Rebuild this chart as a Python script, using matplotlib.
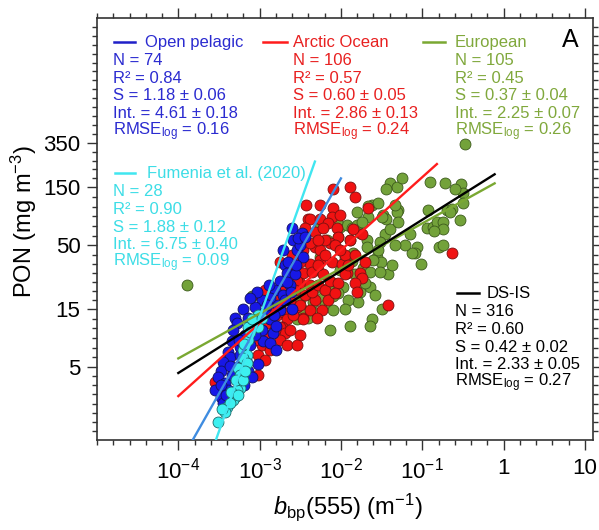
import matplotlib
matplotlib.use("Agg")
import matplotlib.pyplot as plt
from matplotlib.lines import Line2D
import numpy as np

plt.rcParams['font.family'] = ['Liberation Sans', 'DejaVu Sans']
plt.rcParams['mathtext.fontset'] = 'custom'
plt.rcParams['mathtext.rm'] = 'Liberation Sans'
plt.rcParams['mathtext.it'] = 'Liberation Sans:italic'
plt.rcParams['mathtext.bf'] = 'Liberation Sans:bold'

# data, log10 units
open_logb = [-2.60, -2.59, -2.48, -2.54, -2.47, -2.69, -2.66, -2.75, -2.63, -2.56,
             -2.81, -2.71, -2.87, -2.77, -2.97, -3.06, -3.21, -3.30, -3.28, -3.14,
             -2.93, -2.87, -2.97, -2.83, -2.96, -2.87, -3.06, -3.12, -3.34, -3.39,
             -3.36, -3.45, -3.24, -3.48, -3.51, -3.28, -3.14, -3.09, -3.42, -3.39,
             -3.48, -3.45, -3.34, -3.24, -3.18, -3.09, -2.75, -2.65, -2.50, -2.55,
             -2.69, -3.02, -3.41, -3.19, -2.99, -2.80, -2.91, -2.61, -2.53, -2.44,
             -2.71, -3.33, -3.37, -3.17, -3.55, -2.88, -3.03, -3.12, -2.82, -2.66,
             -3.25, -3.47, -2.80, -2.60]
open_logpon = [1.84, 1.74, 1.80, 1.66, 1.60, 1.54, 1.47, 1.41, 1.37, 1.46,
               1.33, 1.29, 1.27, 1.21, 1.25, 1.19, 1.18, 1.10, 1.06, 1.10,
               1.15, 1.09, 1.00, 0.98, 0.91, 0.90, 0.96, 0.88, 0.91, 0.82,
               0.78, 0.74, 0.86, 0.67, 0.62, 0.70, 0.67, 0.62, 0.57, 0.51,
               0.45, 0.40, 0.63, 0.80, 0.96, 1.04, 1.17, 1.56, 1.70, 1.54,
               1.25, 0.72, 0.47, 0.55, 1.09, 1.04, 1.21, 1.32, 1.76, 1.77,
               1.66, 1.00, 0.71, 0.76, 0.51, 1.37, 1.32, 1.27, 1.13, 1.40,
               0.92, 0.55, 0.84, 1.18]

fum_logb = [-3.02, -3.02, -3.14, -3.14, -3.20, -3.15, -3.21, -3.15, -3.26, -3.24,
            -3.24, -3.28, -3.30, -3.33, -3.40, -3.42, -3.51, -3.09, -2.97, -3.19,
            -3.29, -3.21, -3.35, -3.37, -3.46, -3.12, -3.18, -3.26]
fum_logpon = [1.13, 1.03, 1.03, 0.92, 0.84, 0.80, 0.77, 0.73, 0.69, 0.63,
              0.53, 0.51, 0.45, 0.43, 0.37, 0.33, 0.25, 1.09, 1.10, 0.89,
              0.59, 0.59, 0.49, 0.40, 0.35, 0.99, 0.67, 0.47]

arctic_logb = [-3.55, -3.42, -3.02, -2.99, -2.79, -2.71, -2.66, -2.54, -2.47, -2.72,
               -2.91, -2.83, -2.40, -1.89, -1.83, -2.10, -2.10, -2.11, -2.38, -2.26,
               -2.16, -2.05, -2.04, -2.13, -2.07, -2.32, -2.26, -1.74, -1.67, -2.47,
               -2.38, -2.26, -2.11, -1.99, -1.93, -1.77, -1.74, -1.83, -2.47, -2.36,
               -2.50, -0.64, -1.80, -1.42, -1.95, -2.47, -2.75, -2.69, -2.38, -2.54,
               -2.22, -2.63, -2.56, -2.44, -2.32, -2.50, -2.63, -2.77, -2.87, -2.93,
               -2.69, -2.36, -2.28, -2.20, -2.13, -2.04, -2.16, -2.23, -2.38, -2.59,
               -2.81, -2.90, -2.97, -3.06, -2.93, -2.75, -2.63, -2.50, -1.95, -2.01,
               -2.20, -2.32, -2.44, -2.50, -2.28, -1.89, -1.83, -1.91, -2.60, -2.38,
               -2.20, -2.28, -2.01, -1.85, -2.07, -2.29, -2.66, -2.87, -2.54, -3.02,
               -3.40, -2.75, -2.43, -2.22, -1.71, -2.26]
arctic_logpon = [0.58, 0.51, 0.80, 1.29, 1.13, 1.15, 1.09, 1.19, 1.10, 1.03,
                 1.06, 1.28, 1.92, 2.18, 2.10, 2.16, 2.01, 1.93, 1.92, 1.92,
                 1.88, 1.84, 1.77, 1.72, 1.70, 1.69, 1.66, 1.79, 2.01, 1.66,
                 1.55, 1.58, 1.56, 1.55, 1.47, 1.47, 1.43, 1.39, 1.47, 1.48,
                 1.39, 1.64, 1.32, 1.21, 1.46, 1.09, 1.03, 0.98, 1.37, 1.41,
                 1.46, 1.51, 1.33, 1.29, 1.25, 1.21, 1.25, 1.25, 1.18, 1.33,
                 1.36, 1.32, 1.37, 1.33, 1.41, 1.39, 1.25, 1.17, 1.17, 1.13,
                 1.00, 0.96, 0.88, 0.92, 0.76, 0.92, 1.00, 0.96, 1.62, 1.66,
                 1.74, 1.81, 1.84, 1.56, 1.54, 1.74, 1.62, 1.54, 1.62, 1.72,
                 1.62, 1.74, 1.95, 1.83, 1.31, 1.10, 0.88, 0.84, 0.88, 0.63,
                 0.49, 1.56, 2.03, 1.84, 1.56, 2.03]

euro_logb = [-3.89, -0.48, -1.40, -1.31, -1.25, -1.45, -0.91, -0.72, -0.52, -0.50,
             -1.62, -1.48, -1.44, -1.30, -1.67, -2.01, -1.93, -1.87, -1.80, -1.68,
             -1.68, -1.46, -1.52, -0.70, -0.63, -0.50, -0.94, -0.87, -0.82, -0.75,
             -0.75, -0.85, -1.07, -1.09, -1.01, -0.79, -1.56, -1.51, -1.61, -1.91,
             -1.87, -1.73, -1.42, -1.64, -2.10, -1.98, -2.04, -2.10, -2.32, -1.52,
             -2.16, -2.23, -2.34, -2.20, -1.77, -1.79, -1.64, -1.91, -1.95, -2.10,
             -1.50, -1.62, -1.64, -1.89, -2.13, -2.34, -2.40, -3.09, -2.54, -2.26,
             -2.05, -1.55, -1.67, -1.31, -2.04, -1.89, -1.77, -1.50, -0.66, -1.12,
             -0.75, -1.55, -1.85, -1.95, -2.17, -1.40, -1.34, -1.83, -1.71, -1.58,
             -1.37, -1.21, -1.15, -1.80, -1.74, -2.50, -2.28, -2.01, -1.30, -0.60,
             -0.54, -0.93, -1.34, -2.47, -2.26]
euro_logpon = [1.37, 2.53, 2.21, 2.18, 2.25, 2.16, 2.22, 2.21, 2.20, 2.13,
               2.03, 1.95, 1.92, 1.99, 1.93, 1.85, 1.87, 1.84, 1.87, 1.74,
               1.69, 1.79, 1.73, 1.99, 2.00, 2.05, 1.84, 1.85, 1.89, 1.89,
               1.83, 1.82, 1.69, 1.64, 1.55, 1.69, 1.60, 1.56, 1.58, 1.60,
               1.57, 1.51, 1.46, 1.48, 1.39, 1.36, 1.31, 1.28, 1.35, 1.48,
               1.35, 1.27, 1.23, 1.21, 1.32, 1.23, 1.36, 1.25, 1.18, 1.17,
               1.18, 1.09, 1.04, 1.04, 1.00, 1.15, 1.10, 1.28, 1.09, 1.85,
               1.89, 2.05, 2.02, 1.97, 1.77, 1.74, 1.80, 1.93, 1.97, 1.64,
               1.70, 1.66, 1.64, 1.60, 1.74, 1.83, 2.03, 1.46, 1.39, 1.29,
               1.54, 1.70, 1.79, 1.97, 1.89, 1.25, 1.50, 1.50, 1.89, 2.16,
               1.91, 1.99, 1.70, 1.17, 1.60]

# regressions: log10(PON) = Int + S * log10(bbp)
fit_names = ['Open pelagic', 'Arctic Ocean', 'European', 'Fumenia et al. (2020)', 'DS-IS']
fit_n = [74, 106, 105, 28, 316]
fit_r2 = ['0.84', '0.57', '0.45', '0.90', '0.60']
fit_s = [1.18, 0.60, 0.37, 1.88, 0.42]
fit_s_err = ['0.06', '0.05', '0.04', '0.12', '0.02']
fit_int = [4.61, 2.86, 2.25, 6.75, 2.33]
fit_int_err = ['0.18', '0.13', '0.07', '0.40', '0.05']
fit_rmse = ['0.16', '0.24', '0.26', '0.09', '0.27']
fit_logb_min = [-3.9, -4.0, -4.0, -3.6, -4.0]
fit_logb_max = [-2.0, -0.82, -0.11, -2.32, -0.11]

W, H = 599, 530
fig = plt.figure(figsize=(W / 100, H / 100), dpi=100)
ax = fig.add_axes([97 / W, 1 - 440 / H, 496 / W, 422 / H])

text_colors = ['#2b2bd0', '#e82020', '#80a83c', '#3ddde6', 'black']
line_colors = ['#3f8ce0', '#ff1c1c', '#7aa832', '#40e6f0', 'black']
key_colors = ['#2020c8', '#ff1c1c', '#7aa832', '#40e6f0', 'black']

ms = 62
ax.scatter(10 ** np.array(euro_logb), 10 ** np.array(euro_logpon), s=ms,
           c='#73a23a', edgecolors='#3c5a1c', linewidths=0.6, zorder=2)
ax.scatter(10 ** np.array(arctic_logb), 10 ** np.array(arctic_logpon), s=ms,
           c='#f01212', edgecolors='#7a1010', linewidths=0.6, zorder=3)
ax.scatter(10 ** np.array(open_logb), 10 ** np.array(open_logpon), s=ms,
           c='#1818e6', edgecolors='#101060', linewidths=0.6, zorder=4)
ax.scatter(10 ** np.array(fum_logb), 10 ** np.array(fum_logpon), s=ms,
           c='#3cf0f0', edgecolors='#1c6a6a', linewidths=0.6, zorder=5)

for i in range(len(fit_names)):
    lb = np.array([fit_logb_min[i], fit_logb_max[i]])
    ax.plot(10 ** lb, 10 ** (fit_int[i] + fit_s[i] * lb), color=line_colors[i],
            lw=1.7, zorder=6 + (i == 4))

ax.set_xscale('log')
ax.set_yscale('log')
ax.set_xlim(1e-5, 10 ** 1.1)
ax.set_ylim(10 ** 0.099, 10 ** 3.569)

ax.set_xticks([1e-4, 1e-3, 1e-2, 1e-1, 1, 10])
ax.set_xticklabels(['$10^{-4}$', '$10^{-3}$', '$10^{-2}$', '$10^{-1}$', '1', '10'])
ax.set_xticks([10 ** (0.2 * k) for k in range(-25, 6) if k % 5 != 0 or k == -25], minor=True)

yt = [5, 15, 50, 150, 350]
ax.set_yticks(yt)
ax.set_yticklabels([str(v) for v in yt])
edges = [0.099] + list(np.log10(yt)) + [3.569]
yminor = []
for a, b in zip(edges[:-1], edges[1:]):
    n = max(1, int(round((b - a) / 0.074)))
    yminor += list(np.linspace(a, b, n + 1)[1:-1])
ax.set_yticks(10 ** np.array(yminor), minor=True)
ax.yaxis.set_minor_formatter(plt.NullFormatter())
ax.xaxis.set_minor_formatter(plt.NullFormatter())

ax.tick_params(which='both', direction='out', top=True, right=True,
               labeltop=False, labelright=False, colors='#333333', width=1.0)
ax.tick_params(which='major', length=7, labelsize=16, labelcolor='black')
ax.tick_params(axis='x', which='major', pad=6)
ax.tick_params(axis='y', which='major', pad=5)
ax.tick_params(which='minor', length=3.5)
for sp in ax.spines.values():
    sp.set_color('#333333')
    sp.set_linewidth(1.2)

fig.text(24 / W, 1 - 222 / H, 'PON (mg m$^{-3}$)', rotation=90, fontsize=17,
         ha='center', va='center')
fig.text(348 / W, 1 - 507 / H, r'$\mathit{b}_{\mathrm{bp}}$(555) (m$^{-1}$)',
         fontsize=17, ha='center', va='center')

# legend blocks: key segment x0, x1, title x, text x, title y (pixels)
blocks = [(114, 135, 145, 113, 42), (263, 287, 293, 293, 42), (423, 445, 455, 455, 42),
          (115, 135, 147, 113, 173), (457, 479, 487, 455, 293)]
for i, (k0, k1, tx, lx, y0) in enumerate(blocks):
    fig.add_artist(Line2D([k0 / W, k1 / W], [1 - y0 / H] * 2, color=key_colors[i], lw=1.8))
    fig.text(tx / W, 1 - (y0 + 5) / H, fit_names[i], color=text_colors[i],
             fontsize=12, va='baseline')
    rows = ['N = %d' % fit_n[i],
            'R\u00b2 = ' + fit_r2[i],
            'S = %.2f \u00b1 %s' % (fit_s[i], fit_s_err[i]),
            'Int. = %.2f \u00b1 %s' % (fit_int[i], fit_int_err[i]),
            r'RMSE$_{\mathrm{log}}$ = ' + fit_rmse[i]]
    for j, r in enumerate(rows):
        yy = y0 + 18.3 + 17.6 * j
        fig.text(lx / W, 1 - (yy + 5) / H, r, color=text_colors[i], fontsize=12,
                 va='baseline')

fig.text(570 / W, 1 - 40 / H, 'A', fontsize=18, ha='center', va='center')

fig.savefig('out.png', dpi=100)
